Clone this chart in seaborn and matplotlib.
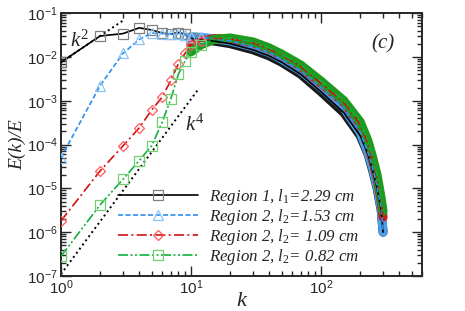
import numpy as np
import pandas as pd
import matplotlib
matplotlib.use('Agg')
import matplotlib.pyplot as plt
import seaborn as sns
from matplotlib.ticker import LogLocator, NullFormatter

sns.set_style('ticks')
plt.rcParams['font.family'] = ['Liberation Sans', 'DejaVu Sans']
plt.rcParams['mathtext.fontset'] = 'custom'
plt.rcParams['mathtext.rm'] = 'Liberation Serif'
plt.rcParams['mathtext.it'] = 'Liberation Serif:italic'

# Wavenumbers (integer k at low end, sparser readings along the dense band)
k = [1, 2, 3, 4, 5, 6, 7, 8, 9, 10,
     12, 15, 20, 30, 40, 50, 70, 100, 150, 200, 230, 250, 270, 290, 300]

# Normalised spectra E(k)/E
region1_229 = [7.5e-3, 3.0e-2, 3.4e-2, 4.6e-2, 4.1e-2, 3.5e-2, 3.3e-2, 3.6e-2, 3.3e-2, 2.7e-2,
               2.4e-2, 2.3e-2, 2.0e-2, 1.45e-2, 1.05e-2, 7.5e-3, 4.0e-3, 1.6e-3, 5.3e-4, 1.6e-4,
               6.0e-5, 2.5e-5, 1.0e-5, 3.2e-6, 1.0e-6]
region2_153 = [5.0e-5, 2.2e-3, 1.2e-2, 2.5e-2, 3.5e-2, 3.4e-2, 3.3e-2, 3.4e-2, 3.2e-2, 2.9e-2,
               2.8e-2, 2.6e-2, 2.3e-2, 1.7e-2, 1.25e-2, 8.8e-3, 4.8e-3, 2.0e-3, 6.8e-4, 1.9e-4,
               6.5e-5, 2.8e-5, 1.1e-5, 3.5e-6, 1.0e-6]
region2_109 = [1.8e-6, 2.5e-5, 9.3e-5, 2.4e-4, 6.2e-4, 1.2e-3, 2.9e-3, 7.0e-3, 1.2e-2, 1.9e-2,
               2.3e-2, 2.6e-2, 2.6e-2, 2.1e-2, 1.5e-2, 1.1e-2, 6.0e-3, 2.5e-3, 9.0e-4, 2.9e-4,
               1.0e-4, 4.2e-5, 1.7e-5, 5.0e-6, 2.2e-6]
region2_082 = [2.8e-7, 4.2e-6, 1.6e-5, 4.3e-5, 9.5e-5, 3.2e-4, 1.1e-3, 4.0e-3, 8.0e-3, 1.3e-2,
               1.9e-2, 2.5e-2, 2.7e-2, 2.2e-2, 1.6e-2, 1.15e-2, 6.5e-3, 2.8e-3, 1.0e-3, 3.3e-4,
               1.2e-4, 5.0e-5, 2.0e-5, 6.0e-6, 3.0e-6]

labels = [r'Region 1, $l_1$=2.29 cm', r'Region 2, $l_2$=1.53 cm',
          r'Region 2, $l_2$= 1.09 cm', r'Region 2, $l_2$= 0.82 cm']

# Reference slopes (end points)
k2_k, k2_E = [1, 3.1], [7.5e-3, 7.2e-2]
k4_k, k4_E = [1, 11.5], [1.1e-7, 1.9e-3]

series = [region1_229, region2_153, region2_109, region2_082]
line_colors = ['black', '#2b8ff0', '#d01010', '#10b040']
marker_colors = ['#808080', '#8cc4f8', '#ff5a5a', '#70d070']
band_colors = ['#1a1a1a', '#4a9fe8', '#c81e1e', '#1e9a1e']
markers = ['s', '^', 'D', 's']
msizes = [6.5, 6.5, 5.5, 6.5]
dashes = [(None, None), (3, 1.5), (6, 2, 1.2, 2), (6, 1.5, 1.2, 1.5, 1.2, 1.5)]

fig = plt.figure(figsize=(4.65, 3.11), dpi=100)
ax = fig.add_axes([0.131, 0.1125, 0.777, 0.8455])

df = pd.DataFrame({'k': k})
band_start = k.index(10)
handles = []
for i, vals in enumerate(series):
    df['E'] = vals
    # dense band of overlapping markers at high k
    sns.lineplot(x='k', y='E', data=df.iloc[band_start:], ax=ax, color=band_colors[i],
                 linewidth=6.5, solid_joinstyle='round', solid_capstyle='round',
                 zorder=2 + i, legend=False)
    sns.lineplot(x='k', y='E', data=df, ax=ax, color=line_colors[i], linewidth=1.2,
                 marker=markers[i], markersize=msizes[i], markerfacecolor='none',
                 markeredgecolor=marker_colors[i], markeredgewidth=0.9,
                 markevery=list(range(0, band_start + 2)), zorder=6 + i, legend=False)
    line = ax.lines[-1]
    if dashes[i][0] is not None:
        line.set_dashes(dashes[i])
    handles.append(line)

sns.lineplot(x=k2_k, y=k2_E, ax=ax, color='black', linestyle=':', linewidth=1.4, zorder=1)
sns.lineplot(x=k4_k, y=k4_E, ax=ax, color='black', linestyle=':', linewidth=1.4, zorder=1)

ax.set_xscale('log')
ax.set_yscale('log')
ax.set_xlim(1, 600)
ax.set_ylim(1e-7, 1e-1)
ax.yaxis.set_minor_locator(LogLocator(base=10, subs=np.arange(2, 10), numticks=20))
ax.yaxis.set_minor_formatter(NullFormatter())
ax.tick_params(which='both', direction='in', top=True, right=True, labelsize=11, width=1)
ax.tick_params(which='major', length=7, pad=2)
ax.tick_params(which='minor', length=3.5)
for s in ax.spines.values():
    s.set_linewidth(1.4)

serif = {'family': 'Liberation Serif', 'style': 'italic'}
ax.set_xlabel('k', fontdict=serif, fontsize=16, labelpad=-4)
ax.set_ylabel('E(k)/E', fontdict=serif, fontsize=14, labelpad=1)
ax.text(0.025, 0.872, r'$k^2$', transform=ax.transAxes, fontsize=15)
ax.text(0.343, 0.553, r'$k^4$', transform=ax.transAxes, fontsize=15)
ax.text(0.89, 0.865, '(c)', transform=ax.transAxes, fontdict=serif, fontsize=15,
        ha='center')

ax.legend(handles, labels, loc='lower left', bbox_to_anchor=(0.158, 0.035),
          frameon=False, borderpad=0, borderaxespad=0, labelspacing=0.0,
          handlelength=4.7, handletextpad=0.65, numpoints=1,
          prop={'family': 'Liberation Serif', 'style': 'italic', 'size': 12.2})

plt.savefig('out.png', dpi=100)
